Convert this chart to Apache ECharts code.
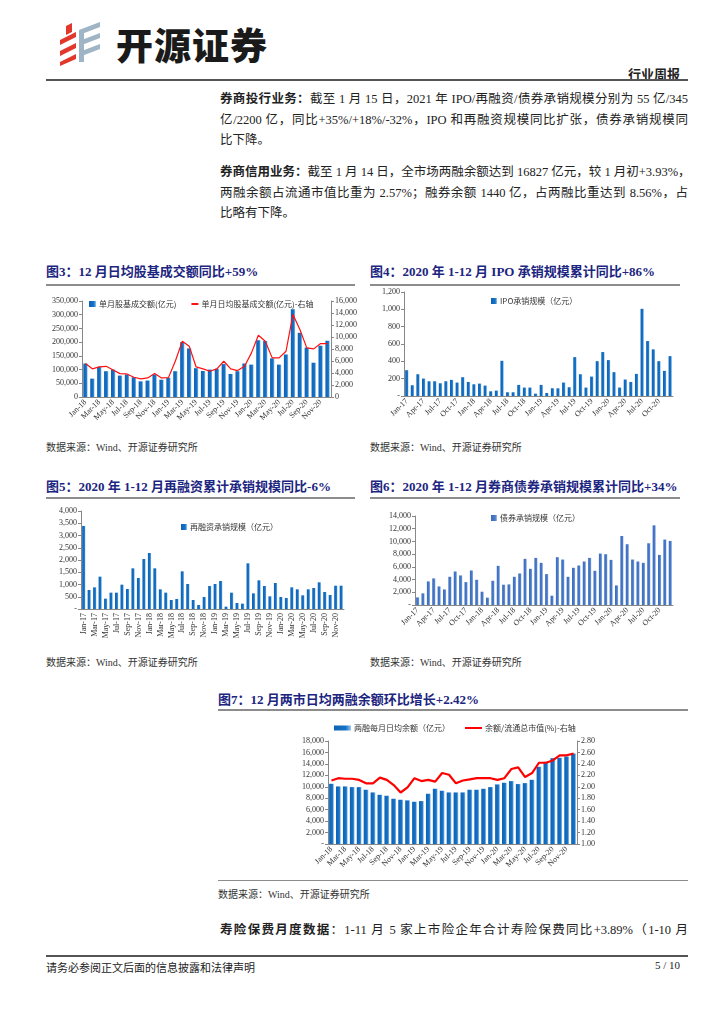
<!DOCTYPE html>
<html><head><meta charset="utf-8">
<script src="https://cdn.jsdelivr.net/npm/echarts@6/dist/echarts.min.js"></script>
<style>
html,body{margin:0;padding:0;background:#fff;}
body{width:724px;height:1024px;position:relative;overflow:hidden;font-family:"Liberation Serif","Noto Sans CJK SC",serif;color:#222;}
.abs{position:absolute;}
.line{position:absolute;background:#8c8c8c;height:2px;}
.para{position:absolute;left:220px;width:468px;font-size:12.5px;line-height:20.5px;color:#222;}
.para div{text-align:justify;text-align-last:justify;white-space:nowrap;}
.para div.last{text-align-last:left;}
.para b{font-weight:700;}
.ftitle{position:absolute;font-size:13px;font-weight:700;color:#1c2580;white-space:nowrap;}
.src{position:absolute;font-size:10px;color:#333;white-space:nowrap;}
.chart{position:absolute;}
</style></head><body>

<svg class="abs" style="left:56px;top:20px" width="50" height="46" viewBox="0 0 50 46">
  <polygon points="4,20 20,12 20,17 4,25" fill="#e2372b"/>
  <polygon points="4,31 20,23 20,28 4,36" fill="#e2372b"/>
  <polygon points="4,42 20,34 20,39 4,46" fill="#e2372b"/>
  <polygon points="10,6 16,3 16,12 10,15" fill="#e2372b"/>
  <polygon points="23,10 44,2 44,7 23,15" fill="#9fb4c4"/>
  <polygon points="23,21 44,13 44,18 23,26" fill="#9fb4c4"/>
  <polygon points="23,32 44,24 44,29 23,37" fill="#9fb4c4"/>
  <rect x="23" y="10" width="5" height="32" fill="#9fb4c4"/>
</svg>
<div class="abs" style="left:116px;top:21px;font-family:'Noto Sans CJK SC';font-weight:900;font-size:37px;letter-spacing:1px;color:#1a1a1a;line-height:46px;">开源证券</div>
<div class="abs" style="right:44px;top:64px;font-family:'Noto Sans CJK SC';font-weight:700;font-size:13px;color:#222;">行业周报</div>
<div class="line" style="left:46px;top:79px;width:642px;background:#555;"></div>

<div class="para" style="top:89px;">
  <div><b>券商投行业务：</b>截至 1 月 15 日，2021 年 IPO/再融资/债券承销规模分别为 55 亿/345</div>
  <div>亿/2200 亿，同比+35%/+18%/-32%，IPO 和再融资规模同比扩张，债券承销规模同</div>
  <div class="last">比下降。</div>
</div>
<div class="para" style="top:162px;">
  <div><b>券商信用业务：</b>截至 1 月 14 日，全市场两融余额达到 16827 亿元，较 1 月初+3.93%，</div>
  <div>两融余额占流通市值比重为 2.57%；融券余额 1440 亿，占两融比重达到 8.56%，占</div>
  <div class="last">比略有下降。</div>
</div>

<div class="ftitle" style="left:46px;top:261px;">图3：12 月日均股基成交额同比+59%</div>
<div class="line" style="left:46px;top:284px;width:309px;"></div>
<div class="ftitle" style="left:370px;top:261px;">图4：2020 年 1-12 月 IPO 承销规模累计同比+86%</div>
<div class="line" style="left:370px;top:284px;width:310px;"></div>
<div class="src" style="left:46px;top:439px;">数据来源：Wind、开源证券研究所</div>
<div class="src" style="left:370px;top:439px;">数据来源：Wind、开源证券研究所</div>

<div class="ftitle" style="left:46px;top:476px;">图5：2020 年 1-12 月再融资累计承销规模同比-6%</div>
<div class="line" style="left:46px;top:497px;width:309px;"></div>
<div class="ftitle" style="left:370px;top:476px;">图6：2020 年 1-12 月券商债券承销规模累计同比+34%</div>
<div class="line" style="left:370px;top:497px;width:310px;"></div>
<div class="src" style="left:46px;top:654px;">数据来源：Wind、开源证券研究所</div>
<div class="src" style="left:370px;top:654px;">数据来源：Wind、开源证券研究所</div>

<div class="ftitle" style="left:218px;top:689px;">图7：12 月两市日均两融余额环比增长+2.42%</div>
<div class="line" style="left:218px;top:709px;width:470px;"></div>
<div class="line" style="left:218px;top:880px;width:470px;height:1px;"></div>
<div class="src" style="left:218px;top:886px;">数据来源：Wind、开源证券研究所</div>

<div class="para" style="top:920px;">
  <div><b>寿险保费月度数据</b>：1-11 月 5 家上市险企年合计寿险保费同比+3.89%（1-10 月</div>
</div>

<div class="line" style="left:46px;top:955px;width:642px;background:#555;"></div>
<div class="abs" style="left:46px;top:959px;font-size:11px;color:#222;">请务必参阅正文后面的信息披露和法律声明</div>
<div class="abs" style="right:44px;top:959px;font-size:11px;color:#222;">5 / 10</div>

<div id="c3" class="chart" style="left:40px;top:288px;width:325px;height:140px;"></div>
<div id="c4" class="chart" style="left:365px;top:285px;width:320px;height:140px;"></div>
<div id="c5" class="chart" style="left:40px;top:505px;width:320px;height:140px;"></div>
<div id="c6" class="chart" style="left:365px;top:505px;width:320px;height:140px;"></div>
<div id="c7" class="chart" style="left:215px;top:715px;width:400px;height:165px;"></div>

<script>
// ---------- categories ----------
const months18to20 = ["Jan-18","Feb-18","Mar-18","Apr-18","May-18","Jun-18","Jul-18","Aug-18","Sep-18","Oct-18","Nov-18","Dec-18",
  "Jan-19","Feb-19","Mar-19","Apr-19","May-19","Jun-19","Jul-19","Aug-19","Sep-19","Oct-19","Nov-19","Dec-19",
  "Jan-20","Feb-20","Mar-20","Apr-20","May-20","Jun-20","Jul-20","Aug-20","Sep-20","Oct-20","Nov-20","Dec-20"];
const months17to20 = ["Jan-17","Feb-17","Mar-17","Apr-17","May-17","Jun-17","Jul-17","Aug-17","Sep-17","Oct-17","Nov-17","Dec-17",
  "Jan-18","Feb-18","Mar-18","Apr-18","May-18","Jun-18","Jul-18","Aug-18","Sep-18","Oct-18","Nov-18","Dec-18",
  "Jan-19","Feb-19","Mar-19","Apr-19","May-19","Jun-19","Jul-19","Aug-19","Sep-19","Oct-19","Nov-19","Dec-19",
  "Jan-20","Feb-20","Mar-20","Apr-20","May-20","Jun-20","Jul-20","Aug-20","Sep-20","Oct-20","Nov-20","Dec-20"];

// ---------- Fig 3: stock+fund turnover ----------
const turnoverMonthly = [122000,67000,110000,94000,100000,78000,82000,72000,57000,60000,82000,63000,
  70000,94000,200000,177000,105000,95000,100000,103000,120000,84000,94000,122000,
  118000,207000,204000,141000,118000,155000,320000,234000,180000,125000,187000,205000];
const turnoverDailyAvg = [5570,4700,5010,5120,4510,3900,3840,3290,3010,3180,3900,3180,
  3230,6000,9300,8470,5010,4680,4290,4680,5960,4680,4400,5120,
  7350,10300,9300,6520,6520,7630,13760,11250,8190,8020,8910,8910];

// ---------- Fig 4: IPO underwriting ----------
const ipoUnderwriting = [298,124,251,201,170,170,147,170,186,155,217,162,
  135,143,120,54,62,406,43,43,128,97,97,27,
  128,35,89,89,155,101,449,251,97,224,402,507,
  414,275,97,190,162,255,1006,634,538,402,290,460];

// ---------- Fig 5: refinancing underwriting ----------
const refinUnderwriting = [3388,776,884,1320,422,667,667,993,816,1660,1265,2041,
  2286,1660,803,667,367,408,1537,1020,367,163,490,939,
  1020,1143,95,667,245,218,1864,639,1170,939,517,1061,
  490,449,884,803,558,803,857,1088,694,571,952,952];

// ---------- Fig 6: bond underwriting ----------
const bondUnderwriting = [1200,1830,3710,4180,2920,2450,4440,5270,4650,3600,5430,3970,
  2090,1150,3810,6160,3190,3240,4440,4960,7260,5690,7410,6630,
  4860,1460,7520,7150,4440,5850,6210,6840,7410,5380,8090,7990,
  7100,3080,10860,9560,7150,6840,6630,9710,12530,7880,10290,10080];

// ---------- Fig 7: margin balance ----------
const marginBalance = [10520,10060,10060,9940,9940,9480,9010,8600,8430,7910,7730,7620,
  7380,7500,8780,9650,9300,9010,9010,9010,9480,9480,9650,9940,
  10410,10700,10990,10470,10640,11220,13490,14360,15000,15060,15290,15810];
const marginToFloatCap = [2.11,2.15,2.14,2.14,2.12,2.06,2.06,2.16,2.12,2.03,1.90,1.99,
  2.15,2.10,2.12,2.09,2.24,2.21,2.06,2.11,2.13,2.15,2.15,2.15,
  2.12,2.15,2.31,2.34,2.17,2.24,2.42,2.42,2.46,2.55,2.55,2.58];

// ---------- styles ----------
const FONT = '"Liberation Serif","Noto Sans CJK SC",serif';
const CJK = '"Noto Sans CJK SC",sans-serif';
const AXC = '#333';
function barColor(c1, c2, c3){
  return new echarts.graphic.LinearGradient(0,0,1,0,[{offset:0,color:c1},{offset:0.7,color:c2},{offset:1,color:c3}]);
}
const blueBar = barColor('#0d62b6','#1673c6','#9cc7ee');
const bondBar = barColor('#3b6cbc','#4a7ccb','#a8c0e6');
function fmtComma(dash){
  return function(v){ if(v===0) return dash ? '-' : '0'; return v.toString().replace(/\B(?=(\d{3})+(?!\d))/g, ','); };
}
function xAxisCfg(cats, interval, rotate){
  return {type:'category', data:cats, boundaryGap:true,
    axisLine:{lineStyle:{color:'#888',width:1}}, axisTick:{show:false},
    axisLabel:{interval:interval, rotate:rotate, fontSize:8, fontFamily:FONT, color:AXC, margin:4}};
}
function yAxisCfg(min,max,step,fmt,pos){
  return {type:'value', min:min, max:max, interval:step, position:pos||'left',
    splitLine:{show:false},
    axisLine:{show:true, lineStyle:{color:'#888',width:1}},
    axisTick:{show:true, length:3, lineStyle:{color:'#888'}},
    axisLabel:{formatter:fmt, fontSize:8, fontFamily:FONT, color:AXC, margin:4}};
}
function legendCfg(left, top, data, w, h){
  return {left:left, top:top, itemWidth:w, itemHeight:h, itemGap:14, data:data,
    textStyle:{fontSize:8, fontFamily:CJK, color:'#333', padding:[0,0,0,-2]}};
}
const hideDot = {opacity:0};

// Fig 3
echarts.init(document.getElementById('c3')).setOption({
  animation:false,
  grid:{left:42, right:34, top:13, bottom:31},
  legend:legendCfg(44, 7, [{name:'单月股基成交额(亿元)', icon:'rect'}, {name:'单月日均股基成交额(亿元)-右轴', itemStyle:hideDot}], 7, 6),
  xAxis:xAxisCfg(months18to20, 1, 45),
  yAxis:[yAxisCfg(0,350000,50000,fmtComma(false)), yAxisCfg(0,16000,2000,fmtComma(false),'right')],
  series:[
    {name:'单月股基成交额(亿元)', type:'bar', data:turnoverMonthly, barWidth:'62%', itemStyle:{color:blueBar}},
    {name:'单月日均股基成交额(亿元)-右轴', type:'line', yAxisIndex:1, data:turnoverDailyAvg, symbol:'none',
      lineStyle:{color:'#ff1010', width:1.2}, itemStyle:{color:'#ff1010'}}
  ]
});

// Fig 4
echarts.init(document.getElementById('c4')).setOption({
  animation:false,
  grid:{left:39, right:12, top:7, bottom:29},
  legend:legendCfg(121, 7, [{name:'IPO承销规模（亿元）', icon:'rect'}], 6, 6),
  xAxis:xAxisCfg(months17to20, 2, 45),
  yAxis:yAxisCfg(0,1200,200,fmtComma(true)),
  series:[{name:'IPO承销规模（亿元）', type:'bar', data:ipoUnderwriting, barWidth:'58%', itemStyle:{color:blueBar}}]
});

// Fig 5
echarts.init(document.getElementById('c5')).setOption({
  animation:false,
  grid:{left:41, right:16, top:6, bottom:36},
  legend:legendCfg(136, 13, [{name:'再融资承销规模（亿元）', icon:'rect'}], 6, 6),
  xAxis:xAxisCfg(months17to20, 1, 90),
  yAxis:yAxisCfg(0,4000,500,fmtComma(true)),
  series:[{name:'再融资承销规模（亿元）', type:'bar', data:refinUnderwriting, barWidth:'58%', itemStyle:{color:blueBar}}]
});

// Fig 6
echarts.init(document.getElementById('c6')).setOption({
  animation:false,
  grid:{left:50, right:12, top:11, bottom:40},
  legend:legendCfg(121, 4, [{name:'债券承销规模（亿元）', icon:'rect'}], 6, 6),
  xAxis:xAxisCfg(months17to20, 2, 45),
  yAxis:yAxisCfg(0,14000,2000,fmtComma(true)),
  series:[{name:'债券承销规模（亿元）', type:'bar', data:bondUnderwriting, barWidth:'58%', itemStyle:{color:bondBar}}]
});

// Fig 7
echarts.init(document.getElementById('c7')).setOption({
  animation:false,
  grid:{left:113, right:38, top:26, bottom:36},
  legend:legendCfg(114, 4, [{name:'两融每月日均余额（亿元）', icon:'rect'}, {name:'余额/流通总市值(%)-右轴', itemStyle:hideDot}], 17, 5),
  xAxis:xAxisCfg(months18to20, 1, 45),
  yAxis:[yAxisCfg(0,18000,2000,fmtComma(true)),
         yAxisCfg(1.0,2.8,0.2,function(v){return v.toFixed(2);},'right')],
  series:[
    {name:'两融每月日均余额（亿元）', type:'bar', data:marginBalance, barWidth:'68%', itemStyle:{color:blueBar}},
    {name:'余额/流通总市值(%)-右轴', type:'line', yAxisIndex:1, data:marginToFloatCap, symbol:'none',
      lineStyle:{color:'#ff0000', width:2.2}, itemStyle:{color:'#ff0000'}}
  ]
});
</script>
</body></html>
